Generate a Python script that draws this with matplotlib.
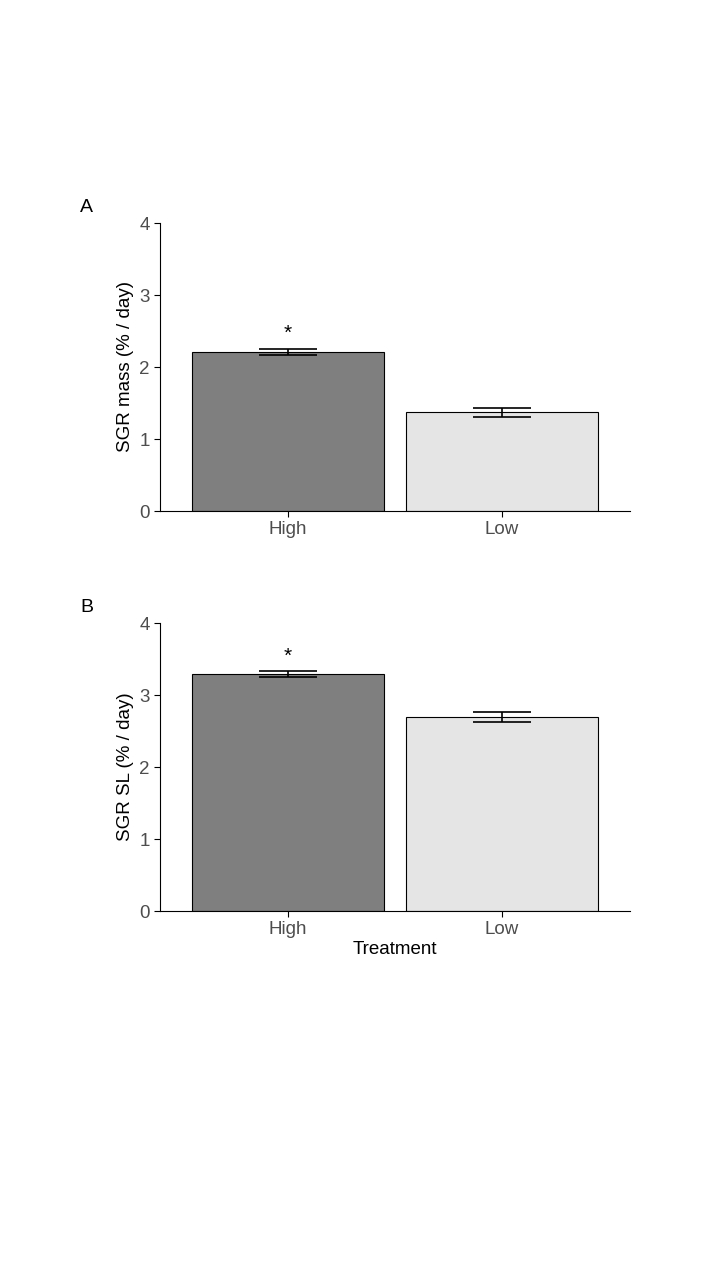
import matplotlib.pyplot as plt

treatments = ["High", "Low"]
mass_mean = [2.21, 1.37]
mass_se = [0.04, 0.06]
sl_mean = [3.29, 2.70]
sl_se = [0.04, 0.07]
bar_colors = ["#7f7f7f", "#e5e5e5"]

fig = plt.figure(figsize=(7.2, 12.8), dpi=100)
plt.rcParams['font.family'] = ['Liberation Sans', 'DejaVu Sans']

def panel(rect, means, ses, ylabel, letter, xlabel=None):
    ax = fig.add_axes(rect)
    x = range(len(treatments))
    ax.bar(x, means, width=0.9, color=bar_colors, edgecolor="black", linewidth=0.8)
    ax.errorbar(x, means, yerr=ses, fmt="none", ecolor="black", elinewidth=1.2,
                capsize=21, capthick=1.2)
    ax.text(0, means[0] + ses[0] + 0.08, "*", ha="center", va="bottom", fontsize=15)
    ax.set_xlim(-0.6, 1.6)
    ax.set_ylim(0, 4)
    ax.set_yticks([0, 1, 2, 3, 4])
    ax.set_xticks(list(x))
    ax.set_xticklabels(treatments)
    ax.spines["top"].set_visible(False)
    ax.spines["right"].set_visible(False)
    ax.tick_params(labelsize=13.5, colors="#4d4d4d", length=4)
    ax.tick_params(axis="both", color="black")
    ax.set_ylabel(ylabel, fontsize=13.5)
    if xlabel:
        ax.set_xlabel(xlabel, fontsize=13.5, labelpad=2)
    fig.text(80 / 720, 1 - 208 / 1280, letter, fontsize=14, va="center") if letter == "A" else \
        fig.text(80 / 720, 1 - 608 / 1280, letter, fontsize=14, va="center")
    return ax

panel([160 / 720, 1 - 511 / 1280, 470 / 720, 288 / 1280], mass_mean, mass_se,
      "SGR mass (% / day)", "A")
panel([160 / 720, 1 - 911 / 1280, 470 / 720, 288 / 1280], sl_mean, sl_se,
      "SGR SL (% / day)", "B", xlabel="Treatment")

fig.savefig("out.png", dpi=100)
